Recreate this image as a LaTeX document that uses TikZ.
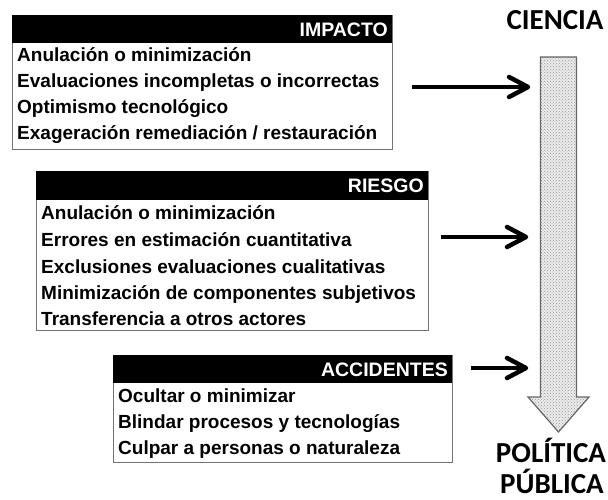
\documentclass[tikz,border=0pt]{standalone}
\usepackage{fontspec}
\setmainfont{Liberation Sans}
\newfontfamily\calib{Carlito}
\usetikzlibrary{arrows.meta,patterns,calc}
\begin{document}
\begin{tikzpicture}[x=1pt,y=-1pt,
  box/.style={draw=black!55,line width=0.9pt,fill=white,anchor=north west,inner sep=0pt},
  hdr/.style={fill=black,anchor=north west,inner sep=0pt},
  hdrtext/.style={anchor=east,text=white,inner sep=0pt,font=\fontsize{19.5}{21}\selectfont\bfseries},
  item/.style={anchor=base west,inner sep=0pt,font=\fontsize{19}{21}\selectfont\bfseries},
  arr/.style={line width=4.5pt},
  chev/.style={line width=4.5pt,line cap=round,line join=round},
  big/.style={font=\calib\fontsize{29}{30}\selectfont\bfseries,anchor=base,inner sep=0pt}]
\useasboundingbox (0,0) rectangle (608,500);
% IMPACTO
\node[box,minimum width=380pt,minimum height=134pt] (b1) at (12,15) {};
\node[hdr,minimum width=380pt,minimum height=28pt] (h1) at (12,15) {};
\node[hdrtext] (h1t) at (388,29.5) {IMPACTO};
\node[item] (i11) at (17,62) {Anulación o minimización};
\node[item] (i12) at (17,88) {Evaluaciones incompletas o incorrectas};
\node[item] (i13) at (17,114) {Optimismo tecnológico};
\node[item] (i14) at (17,140) {Exageración remediación / restauración};
% RIESGO
\node[box,minimum width=392pt,minimum height=159pt] (b2) at (36,171) {};
\node[hdr,minimum width=392pt,minimum height=29pt] (h2) at (36,171) {};
\node[hdrtext] (h2t) at (424,186) {RIESGO};
\node[item] (i21) at (41,219) {Anulación o minimización};
\node[item] (i22) at (41,246) {Errores en estimación cuantitativa};
\node[item] (i23) at (41,273) {Exclusiones evaluaciones cualitativas};
\node[item] (i24) at (41,299.5) {Minimización de componentes subjetivos};
\node[item] (i25) at (41,325.5) {Transferencia a otros actores};
% ACCIDENTES
\node[box,minimum width=339pt,minimum height=107pt] (b3) at (113,355) {};
\node[hdr,minimum width=339pt,minimum height=28pt] (h3) at (113,355) {};
\node[hdrtext] (h3t) at (448,369.5) {ACCIDENTES};
\node[item] (i31) at (118,402.5) {Ocultar o minimizar};
\node[item] (i32) at (118,428.5) {Blindar procesos y tecnologías};
\node[item] (i33) at (118,454.5) {Culpar a personas o naturaleza};
% big arrow
\path[fill=black!8] (540.5,57) -- (576.5,57) -- (576.5,397) -- (589,397) -- (558.5,432) -- (528,397) -- (540.5,397) -- cycle;
\path[pattern=crosshatch dots,pattern color=black!40] (540.5,57) -- (576.5,57) -- (576.5,397) -- (589,397) -- (558.5,432) -- (528,397) -- (540.5,397) -- cycle;
\draw[draw=black!60,line width=1.2pt,line join=miter] (540.5,57) -- (576.5,57) -- (576.5,397) -- (589,397) -- (558.5,432) -- (528,397) -- (540.5,397) -- cycle;
\coordinate (t1) at (528,87);
\coordinate (t2) at (526,237);
\coordinate (t3) at (526,368);
\coordinate (s1) at (412,87);
\coordinate (s2) at (441,237);
\coordinate (s3) at (471,368);
\draw[arr] (s1) -- (t1);
\draw[arr] (s2) -- (t2);
\draw[arr] (s3) -- (t3);
\draw[chev] ($(t1)+(-19,-10)$) -- (t1) -- ($(t1)+(-19,10)$);
\draw[chev] ($(t2)+(-19,-10)$) -- (t2) -- ($(t2)+(-19,10)$);
\draw[chev] ($(t3)+(-19,-10)$) -- (t3) -- ($(t3)+(-19,10)$);
\node[big] (ciencia) at (555,30) {CIENCIA};
\node[big] (pol) at (551,462) {POLÍTICA};
\node[big] (pub) at (552,493) {PÚBLICA};
\end{tikzpicture}
\end{document}
